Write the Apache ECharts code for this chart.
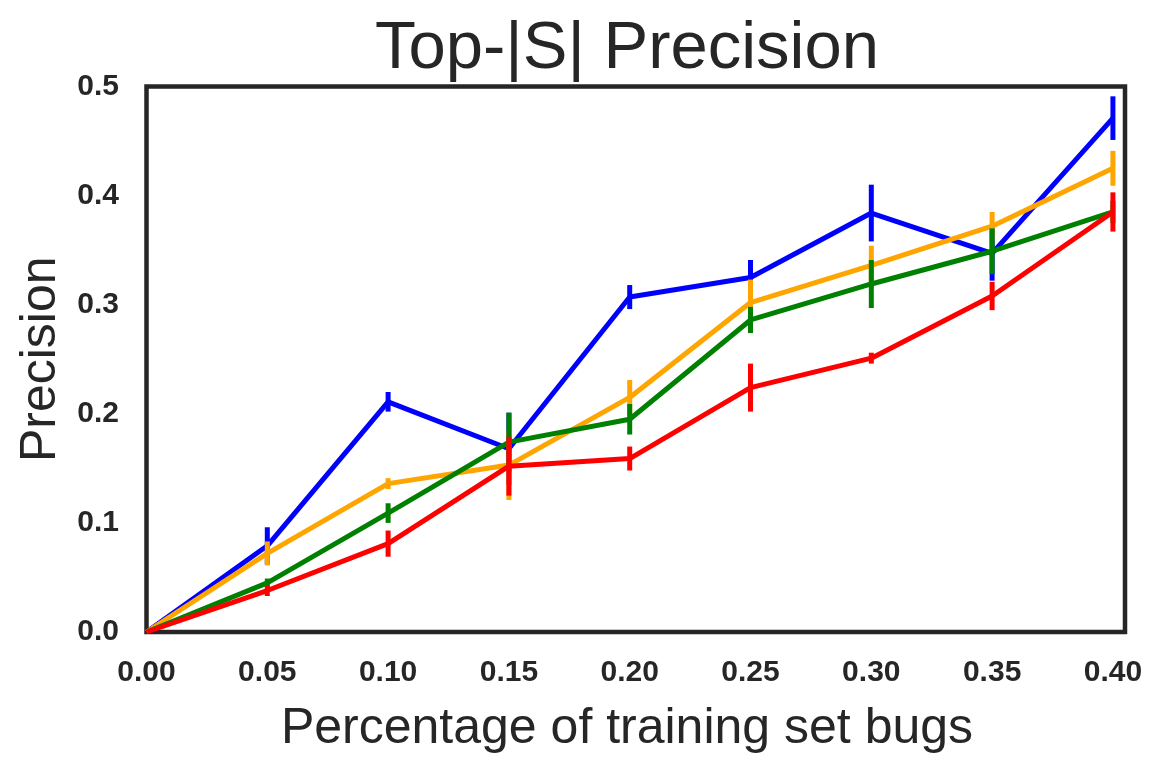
<!DOCTYPE html>
<html>
<head>
<meta charset="utf-8">
<script src="https://cdn.jsdelivr.net/npm/echarts@6/dist/echarts.min.js"></script>
<style>
  html, body { margin: 0; padding: 0; background: #fff; }
  #chart { width: 1163px; height: 765px; }
</style>
</head>
<body>
<div id="chart"></div>
<script>
// share of training set bugs (x axis)
var xValues = [0, 0.05, 0.10, 0.15, 0.20, 0.25, 0.30, 0.35, 0.40];

// precision means and half-height of the error bars
var bluePrec = [0, 0.079, 0.211, 0.168, 0.307, 0.325, 0.384, 0.347, 0.471];
var blueErr = [0, 0.017, 0.009, 0.033, 0.011, 0.016, 0.026, 0.025, 0.020];
var orangePrec = [0, 0.072, 0.136, 0.153, 0.215, 0.302, 0.336, 0.372, 0.425];
var orangeErr = [0, 0.011, 0.005, 0.032, 0.016, 0.021, 0.018, 0.013, 0.016];
var greenPrec = [0, 0.045, 0.109, 0.174, 0.195, 0.286, 0.319, 0.349, 0.385];
var greenErr = [0, 0.004, 0.009, 0.027, 0.014, 0.012, 0.022, 0.021, 0.010];
var redPrec = [0, 0.038, 0.081, 0.152, 0.159, 0.224, 0.251, 0.308, 0.385];
var redErr = [0, 0.005, 0.012, 0.027, 0.011, 0.022, 0.005, 0.013, 0.018];

var groups = [
    { color: '#0000ff', mean: bluePrec, err: blueErr },
    { color: '#ffa500', mean: orangePrec, err: orangeErr },
    { color: '#008000', mean: greenPrec, err: greenErr },
    { color: '#ff0000', mean: redPrec, err: redErr }
];

var ink = '#262626';
var font = '"Liberation Sans", Arial, sans-serif';

var series = [];
groups.forEach(function (g, i) {
    series.push({
        type: 'line',
        z: 10 + i * 2,
        data: xValues.map(function (x, k) { return [x, g.mean[k]]; }),
        symbol: 'none',
        lineStyle: { color: g.color, width: 5 },
        itemStyle: { color: g.color },
        animation: false
    });
    // vertical error bars, no caps
    series.push({
        type: 'custom',
        z: 11 + i * 2,
        data: xValues.map(function (x, k) { return [x, g.mean[k] - g.err[k], g.mean[k] + g.err[k]]; }),
        renderItem: function (params, api) {
            var lo = api.coord([api.value(0), api.value(1)]);
            var hi = api.coord([api.value(0), api.value(2)]);
            return {
                type: 'line',
                shape: { x1: lo[0], y1: lo[1], x2: hi[0], y2: hi[1] },
                style: { stroke: g.color, lineWidth: 5 }
            };
        },
        animation: false
    });
});

var chart = echarts.init(document.getElementById('chart'));
chart.setOption({
    animation: false,
    backgroundColor: '#fff',
    // title and x label sit a bit left of the plot centre, as in the picture
    graphic: [
        {
            type: 'text', x: 627, y: 16, silent: true,
            style: {
                text: 'Top-|S| Precision', fill: ink,
                font: '67px ' + font, textAlign: 'center', textVerticalAlign: 'top'
            }
        },
        {
            type: 'text', x: 627, y: 704, silent: true,
            style: {
                text: 'Percentage of training set bugs', fill: ink,
                font: '50px ' + font, textAlign: 'center', textVerticalAlign: 'top'
            }
        }
    ],
    grid: {
        left: 146.5, right: 38, top: 86.5, bottom: 133,
        containLabel: false, outerBoundsMode: 'none',
        show: true, borderColor: ink, borderWidth: 4.5, backgroundColor: '#fff'
    },
    xAxis: {
        type: 'value',
        min: 0, max: 0.405, interval: 0.05,
        axisLine: { show: false },
        axisTick: { show: false },
        splitLine: { show: false },
        axisLabel: {
            margin: 26, showMaxLabel: false,
            fontFamily: font, fontSize: 30, fontWeight: 'bold', color: ink,
            formatter: function (v) { return v.toFixed(2); }
        }
    },
    yAxis: {
        type: 'value',
        min: 0, max: 0.5, interval: 0.1,
        name: 'Precision',
        nameLocation: 'middle',
        nameGap: 74,
        nameTextStyle: { fontFamily: font, fontSize: 50, color: ink },
        axisLine: { show: false },
        axisTick: { show: false },
        splitLine: { show: false },
        axisLabel: {
            margin: 27.5,
            fontFamily: font, fontSize: 30, fontWeight: 'bold', color: ink,
            formatter: function (v) { return v.toFixed(1); }
        }
    },
    series: series
});
</script>
</body>
</html>
